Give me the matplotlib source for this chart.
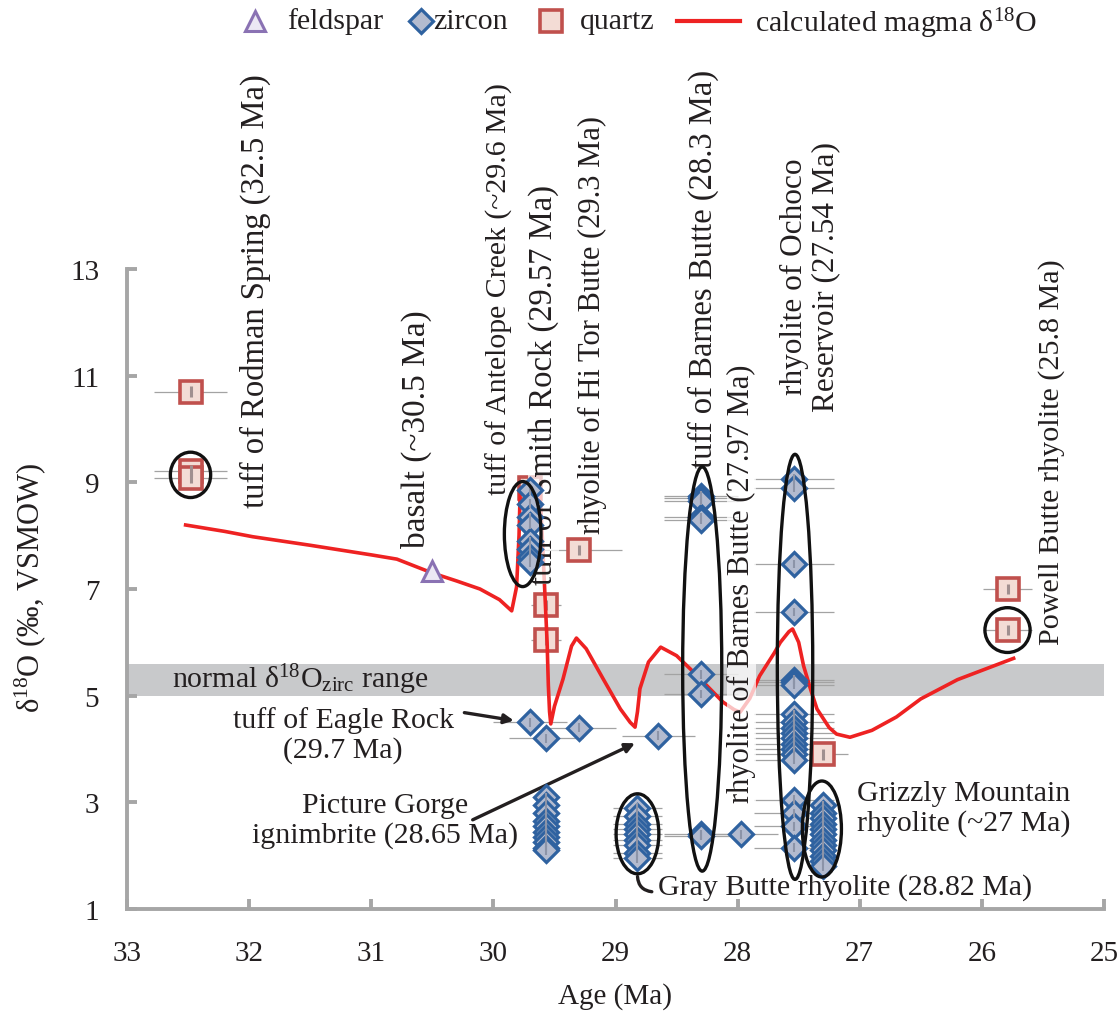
import matplotlib.pyplot as plt
from matplotlib.patches import Ellipse

plt.rcParams['font.family'] = ['Liberation Serif', 'DejaVu Serif']
plt.rcParams['mathtext.fontset'] = 'custom'
plt.rcParams['mathtext.rm'] = 'Liberation Serif'
plt.rcParams['mathtext.it'] = 'Liberation Serif:italic'

# quartz
quartz_age = [32.48, 32.48, 32.48, 29.7, 29.3, 29.57, 29.57, 27.3, 25.79, 25.79]
quartz_d18o = [10.7, 9.22, 9.08, 8.9, 7.73, 6.7, 6.05, 3.9, 7.0, 6.23]
quartz_err = [0.3, 0.3, 0.3, 0.05, 0.35, 0.12, 0.12, 0.2, 0.2, 0.2]

# feldspar
feldspar_age = [30.5]
feldspar_d18o = [7.34]

# zircon groups
antelope_d18o = [8.85, 8.6, 8.35, 8.2, 7.9, 7.75, 7.6, 7.5]
single_age = [29.7, 29.57, 29.3, 28.65, 27.97]
single_d18o = [4.5, 4.2, 4.4, 4.25, 2.4]
smith_d18o = [3.1, 2.95, 2.8, 2.65, 2.55, 2.45, 2.35, 2.25, 2.15, 2.1]
graybutte_d18o = [2.9, 2.75, 2.6, 2.5, 2.4, 2.3, 2.2, 2.05, 1.95]
barnes_d18o = [8.75, 8.7, 8.65, 8.35, 8.3, 5.4, 5.03, 2.4, 2.37]
ochoco_d18o = [9.07, 8.9, 7.47, 6.57, 5.3, 5.25, 5.2, 4.65, 4.5, 4.4, 4.3,
               4.2, 4.1, 4.0, 3.9, 3.8, 3.05, 2.8, 2.55, 2.15]
grizzly_d18o = [2.95, 2.8, 2.7, 2.6, 2.5, 2.4, 2.3, 2.2, 2.1, 2.0, 1.9, 1.8]

zircon_groups = [
    ([29.7] * len(antelope_d18o), antelope_d18o, 0.05),
    (single_age, single_d18o, 0.3),
    ([29.57] * len(smith_d18o), smith_d18o, 0.05),
    ([28.82] * len(graybutte_d18o), graybutte_d18o, 0.2),
    ([28.3] * len(barnes_d18o), barnes_d18o, 0.3),
    ([27.54] * len(ochoco_d18o), ochoco_d18o, 0.33),
    ([27.3] * len(grizzly_d18o), grizzly_d18o, 0.05),
]

# calculated magma d18O
magma_age = [32.52, 32.2, 31.97, 31.5, 31.0, 30.79, 30.5, 30.3, 30.11, 29.95, 29.85,
             29.81, 29.79, 29.78, 29.7, 29.62, 29.6, 29.58, 29.56, 29.55, 29.54, 29.53,
             29.5, 29.43, 29.36, 29.32, 29.24, 29.1, 28.96, 28.88, 28.84, 28.82, 28.8,
             28.73, 28.63, 28.5, 28.36, 28.12, 28.03, 27.98, 27.9, 27.82, 27.7, 27.65,
             27.58, 27.55, 27.5, 27.46, 27.4, 27.35, 27.25, 27.19, 27.08, 26.9, 26.7,
             26.5, 26.2, 25.74]
magma_d18o = [8.2, 8.08, 7.98, 7.82, 7.64, 7.56, 7.3, 7.15, 7.0, 6.8, 6.59,
              7.04, 8.0, 8.88, 8.92, 8.88, 8.0, 7.0, 6.0, 5.2, 4.7, 4.47,
              4.8, 5.31, 5.93, 6.08, 5.88, 5.31, 4.75, 4.5, 4.41, 4.7, 5.13,
              5.63, 5.91, 5.75, 5.44, 4.88, 4.74, 4.69, 4.95, 5.37, 5.8, 6.0,
              6.2, 6.25, 6.0, 5.56, 5.1, 4.75, 4.4, 4.28, 4.22, 4.35, 4.6,
              4.94, 5.3, 5.7]

# circled groups: center age, center d18O, width, height
circle_age = [32.48, 29.76, 28.82, 28.29, 27.53, 27.31, 25.79]
circle_d18o = [9.14, 8.03, 2.41, 5.5, 5.54, 2.5, 6.23]
circle_w = [0.33, 0.3, 0.35, 0.32, 0.29, 0.32, 0.37]
circle_h = [0.85, 1.97, 1.5, 7.58, 7.97, 1.8, 0.84]

QZ_FACE, QZ_EDGE = '#f3dcd5', '#c0504d'
ZR_FACE, ZR_EDGE = '#b3bbcf', '#2f62a0'
FS_FACE, FS_EDGE = '#ece8f4', '#8a72b3'
ERR = '#a3a3a3'
TXT = '#231f20'

fig = plt.figure(figsize=(11.17, 10.12), dpi=100)
ax = fig.add_axes([127 / 1117, 102 / 1012, 977 / 1117, 640 / 1012])

ax.axhspan(5.0, 5.6, color='#c8c9cb', zorder=1, lw=0)

ax.errorbar(quartz_age, quartz_d18o, xerr=quartz_err, fmt='none',
            ecolor=ERR, elinewidth=0.9, zorder=2)
for ages, vals, e in zircon_groups:
    ax.errorbar(ages, vals, xerr=e, fmt='none', ecolor=ERR, elinewidth=0.9, zorder=2)

ax.plot(quartz_age, quartz_d18o, 's', ms=15.5, mfc=QZ_FACE, mec=QZ_EDGE, mew=2.6, zorder=3)
ax.errorbar(quartz_age, quartz_d18o, yerr=0.1, fmt='none', ecolor='#a08f8f',
            elinewidth=2.2, zorder=3.2)
ax.plot(magma_age, magma_d18o, '-', color='#ee2222', lw=2.6, zorder=4,
        solid_joinstyle='round')
ax.plot(feldspar_age, feldspar_d18o, '^', ms=15, mfc=FS_FACE, mec=FS_EDGE, mew=2.2, zorder=5)
for ages, vals, e in zircon_groups:
    ax.plot(ages, vals, 'D', ms=12, mfc=ZR_FACE, mec=ZR_EDGE, mew=2.3, zorder=6)
    ax.errorbar(ages, vals, yerr=0.08, fmt='none', ecolor='#8c94a8',
                elinewidth=1.5, zorder=6.2)

for a, d, w, h in zip(circle_age, circle_d18o, circle_w, circle_h):
    ax.add_patch(Ellipse((a, d), w, h, fill=False, ec='#111111', lw=2.4, zorder=7))

ax.set_xlim(33, 25)
ax.set_ylim(1, 13)
ax.set_xticks(range(25, 34))
ax.set_yticks(range(1, 14, 2))
for s in ['top', 'right']:
    ax.spines[s].set_visible(False)
for s in ['left', 'bottom']:
    ax.spines[s].set_color('#a6a6a6')
    ax.spines[s].set_linewidth(2.8)
ax.tick_params(direction='in', length=7, width=2.8, color='#a6a6a6',
               labelsize=21, pad=20, labelcolor=TXT)
ax.tick_params(axis='x', pad=22)
ax.set_xlabel('Age (Ma)', fontsize=21, labelpad=12, color=TXT)
fig.text(30 / 1117, 1 - 588 / 1012, r'δ$^{18}$O (‰, VSMOW)', fontsize=22,
         rotation=90, ha='center', va='center', color=TXT)


def vtext(x, y, s, size, **kw):
    ax.text(x, y, s, rotation=90, ha='center', va='bottom', fontsize=size,
            color=TXT, **kw)


fade = dict(fc='white', ec='none', alpha=0.72, pad=0)
vtext(31.95, 8.54, 'tuff of Rodman Spring (32.5 Ma)', 23.5)
vtext(30.63, 7.79, 'basalt (~30.5 Ma)', 24)
vtext(29.95, 8.78, 'tuff of Antelope Creek (~29.6 Ma)', 21.5)
vtext(29.59, 7.09, 'tuff of Smith Rock (29.57 Ma)', 23.5, zorder=4.5, bbox=fade)
vtext(29.19, 8.05, 'rhyolite of Hi Tor Butte (29.3 Ma)', 22)
vtext(28.28, 9.29, 'tuff of Barnes Butte (28.3 Ma)', 23.5)
vtext(27.97, 3.0, 'rhyolite of Barnes Butte (27.97 Ma)', 22, zorder=4.5, bbox=fade)
ax.text(27.41, 12.87, 'rhyolite of Ochoco\nReservoir (27.54 Ma)', rotation=90,
        ha='center', va='center', multialignment='center', fontsize=22.5,
        color=TXT, linespacing=1.1)
vtext(25.43, 5.97, 'Powell Butte rhyolite (25.8 Ma)', 21.7)

ht = dict(fontsize=21.5, color=TXT)
ax.text(32.63, 5.31, r'normal δ$^{18}$O$_{\mathregular{zirc}}$ range', ha='left', va='center', **ht)
ax.text(31.23, 4.28, 'tuff of Eagle Rock\n(29.7 Ma)', ha='center', va='center',
        multialignment='center', linespacing=1.15, **ht)
ax.text(30.89, 2.67, 'Picture Gorge\nignimbrite (28.65 Ma)', ha='center', va='center',
        multialignment='center', linespacing=1.15, **ht)
ax.text(28.65, 1.43, 'Gray Butte rhyolite (28.82 Ma)', ha='left', va='center', **ht)
ax.text(27.02, 2.89, 'Grizzly Mountain\nrhyolite (~27 Ma)', ha='left', va='center',
        linespacing=1.15, **ht)

arr = dict(arrowstyle='-|>', color=TXT, lw=2.4, mutation_scale=14)
ax.annotate('', xy=(29.81, 4.525), xytext=(30.26, 4.69), arrowprops=arr)
ax.annotate('', xy=(28.82, 4.13), xytext=(30.19, 2.65), arrowprops=arr)
ax.annotate('', xy=(28.68, 1.32), xytext=(28.82, 1.66),
            arrowprops=dict(arrowstyle='-', color=TXT, lw=2.4,
                            connectionstyle='arc3,rad=0.5'))

# legend row
lg = fig.add_axes([0, 0, 1, 1], zorder=-1)
lg.set_xlim(0, 1117)
lg.set_ylim(1012, 0)
lg.axis('off')
ly = 22
lg.plot([255], [ly], '^', ms=15, mfc=FS_FACE, mec=FS_EDGE, mew=2.2)
lg.text(287, ly, 'feldspar', va='center', fontsize=21.5, color=TXT)
lg.plot([421], [ly], 'D', ms=12, mfc=ZR_FACE, mec=ZR_EDGE, mew=2.3)
lg.text(433, ly, 'zircon', va='center', fontsize=21.5, color=TXT)
lg.plot([551], [ly], 's', ms=15.5, mfc=QZ_FACE, mec=QZ_EDGE, mew=2.6)
lg.text(580, ly, 'quartz', va='center', fontsize=21.5, color=TXT)
lg.plot([677, 740], [ly, ly], '-', color='#ee2222', lw=3)
lg.text(755, ly + 2, r'calculated magma δ$^{18}$O', va='center', fontsize=21.5, color=TXT)

fig.savefig('out.png', dpi=100)
